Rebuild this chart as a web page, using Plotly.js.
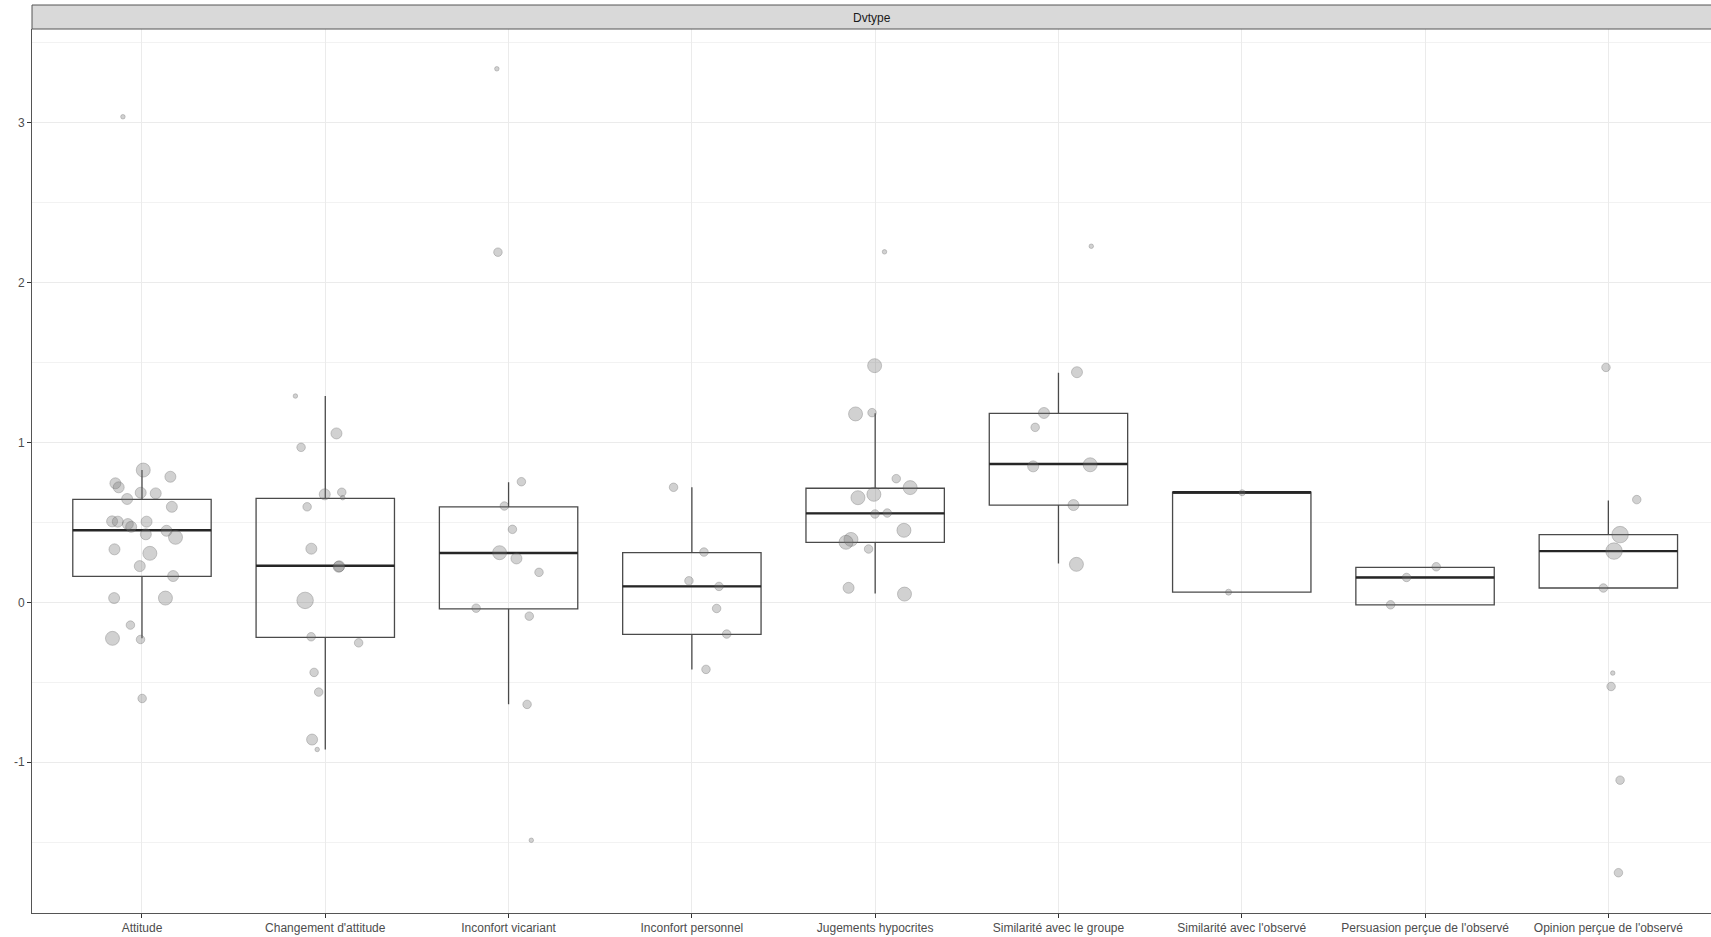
<!DOCTYPE html>
<html>
<head>
<meta charset="utf-8">
<script src="https://cdn.plot.ly/plotly-3.0.1.min.js"></script>
<style>html,body{margin:0;padding:0;background:#fff;}#chart{width:1711px;height:937px;}</style>
</head>
<body>
<div id="chart"></div>
<script>
// ---- Data ----
const categories = ["Attitude", "Changement d'attitude", "Inconfort vicariant", "Inconfort personnel",
  "Jugements hypocrites", "Similarité avec le groupe", "Similarité avec l'observé",
  "Persuasion perçue de l'observé", "Opinion perçue de l'observé"];
const stripLabel = "Dvtype";

// box statistics per category
const q1     = [0.163, -0.219, -0.040, -0.200, 0.376, 0.609, 0.064, -0.015, 0.090];
const median = [0.451,  0.229,  0.309,  0.100, 0.557, 0.866, 0.689,  0.156, 0.321];
const q3     = [0.645,  0.651,  0.598,  0.311, 0.714, 1.183, 0.689,  0.219, 0.424];
const lowerW = [-0.225, -0.920, -0.637, -0.419, 0.056, 0.244, 0.064, -0.015, 0.090];
const upperW = [0.828,  1.291,  0.751,  0.720, 1.183, 1.437, 0.689,  0.219, 0.638];

// individual points: category index (1-based), value, jitter (category units), weight
const pointCategory = [
  1,1,1,1,1,1,1,1,1,1,1,1,1,1,1,1,1,1,1,1,1,1,1,1,1,1,1,
  2,2,2,2,2,2,2,2,2,2,2,2,2,2,2,2,2,
  3,3,3,3,3,3,3,3,3,3,3,3,
  4,4,4,4,4,4,4,
  5,5,5,5,5,5,5,5,5,5,5,5,5,5,5,5,
  6,6,6,6,6,6,6,6,
  7,7,
  8,8,8,
  9,9,9,9,9,9,9,9,9];
const pointValue = [
  0.828,0.786,0.745,0.720,0.686,0.682,0.647,0.598,0.507,0.505,0.505,0.490,0.473,0.448,0.426,0.407,0.332,0.307,0.227,0.165,0.027,0.027,-0.142,-0.225,-0.232,-0.601,3.038,
  1.291,1.057,0.970,0.676,0.689,0.655,0.598,0.336,0.223,0.226,0.0125,-0.215,-0.253,-0.438,-0.561,-0.858,-0.920,
  3.338,2.191,0.755,0.603,0.457,0.311,0.275,0.188,-0.036,-0.086,-0.638,-1.488,
  0.720,0.315,0.135,0.100,-0.038,-0.198,-0.419,
  2.193,1.481,1.179,1.187,0.774,0.718,0.655,0.676,0.553,0.559,0.451,0.394,0.376,0.334,0.091,0.052,
  2.228,1.440,1.185,1.095,0.851,0.861,0.609,0.238,
  0.686,0.064,
  0.223,0.156,-0.015,
  1.470,0.643,0.424,0.321,0.090,-0.442,-0.526,-1.112,-1.691];
const pointJitter = [
  0.007,0.155,-0.145,-0.127,-0.007,0.075,-0.081,0.163,-0.163,-0.132,0.025,-0.077,-0.059,0.134,0.021,0.183,-0.150,0.043,-0.012,0.170,-0.152,0.128,-0.063,-0.161,-0.008,0.001,-0.104,
  -0.163,0.061,-0.132,-0.003,0.090,0.095,-0.099,-0.076,0.073,0.076,-0.110,-0.077,0.182,-0.061,-0.036,-0.072,-0.044,
  -0.064,-0.058,0.070,-0.023,0.021,-0.049,0.043,0.166,-0.177,0.113,0.101,0.124,
  -0.100,0.066,-0.016,0.148,0.135,0.190,0.077,
  0.051,-0.003,-0.107,-0.017,0.115,0.191,-0.094,-0.007,-0.001,0.066,0.157,-0.132,-0.159,-0.036,-0.145,0.160,
  0.179,0.101,-0.079,-0.127,-0.138,0.173,0.082,0.098,
  0.002,-0.072,
  0.061,-0.101,-0.188,
  -0.013,0.155,0.064,0.031,-0.027,0.024,0.015,0.064,0.055];
const pointWeight = [
  4,3,3,3,3,3,3,3,3,3,3,3,3,3,3,4,3,4,3,3,3,4,2,4,2,2,1,
  1,3,2,3,2,1,2,3,3,3,5,2,2,2,2,3,1,
  1,2,2,2,2,4,3,2,2,2,2,1,
  2,2,2,2,2,2,2,
  1,4,4,2,2,4,4,4,2,2,4,4,4,2,3,4,
  1,3,3,2,3,4,3,4,
  1.5,1.5,
  2,2,2,
  2,2,5,5,2,1,2,2,2];

// ---- Styling ----
const boxWidth = 0.755;
const sizeForWeight = w => ({1:4.5, 1.5:6, 2:8.5, 3:11, 4:14, 5:16.5})[w];
const catPos = categories.map((c, i) => i + 1);

const boxTrace = {
  type: 'box',
  x: catPos,
  q1: q1, median: median, q3: q3,
  lowerfence: lowerW, upperfence: upperW,
  width: boxWidth,
  boxpoints: false,
  fillcolor: 'rgba(255,255,255,0)',
  line: {color: '#4a4a4a', width: 1.3},
  whiskerwidth: 0,
  hoverinfo: 'skip',
  showlegend: false
};

// thicker median segments (ggplot style)
const medX = [], medY = [];
catPos.forEach((p, i) => {
  medX.push(p - boxWidth / 2, p + boxWidth / 2, null);
  medY.push(median[i], median[i], null);
});
const medianTrace = {
  type: 'scatter', mode: 'lines', x: medX, y: medY,
  line: {color: '#262626', width: 2.4},
  hoverinfo: 'skip', showlegend: false
};

const pointsTrace = {
  type: 'scatter', mode: 'markers',
  x: pointCategory.map((c, i) => c + pointJitter[i]),
  y: pointValue,
  marker: {
    size: pointWeight.map(sizeForWeight),
    color: 'rgba(120,120,120,0.48)',
    line: {color: 'rgba(85,85,85,0.55)', width: 0.8}
  },
  hoverinfo: 'y', showlegend: false
};

const layout = {
  width: 1711, height: 937,
  margin: {l: 32, r: 0, t: 29, b: 24, pad: 0},
  paper_bgcolor: '#ffffff', plot_bgcolor: '#ffffff',
  font: {family: 'Liberation Sans, Arial, sans-serif', size: 12, color: '#4d4d4d'},
  showlegend: false,
  xaxis: {
    range: [0.4, 9.56],
    tickmode: 'array', tickvals: catPos, ticktext: categories,
    ticks: 'outside', ticklen: 4, tickcolor: '#333333', tickwidth: 1,
    showgrid: true, gridcolor: '#ebebeb', gridwidth: 1,
    zeroline: false,
    showline: true, linecolor: '#555555', linewidth: 1,
    tickfont: {size: 12, color: '#4d4d4d'}
  },
  yaxis: {
    range: [-1.943, 3.587],
    tickmode: 'array', tickvals: [-1, 0, 1, 2, 3], ticktext: ['-1', '0', '1', '2', '3'],
    ticks: 'outside', ticklen: 4, tickcolor: '#333333', tickwidth: 1,
    showgrid: true, gridcolor: '#ebebeb', gridwidth: 1,
    minor: {tickmode: 'array', tickvals: [-1.5, -0.5, 0.5, 1.5, 2.5, 3.5], showgrid: true, gridcolor: '#f2f2f2', gridwidth: 1, ticks: ''},
    zeroline: false,
    showline: true, linecolor: '#555555', linewidth: 1,
    tickfont: {size: 12, color: '#4d4d4d'}
  },
  shapes: [{
    type: 'rect', xref: 'paper', yref: 'paper',
    x0: 0, x1: 1.01, ysizemode: 'pixel', yanchor: 1, y0: 0, y1: 24,
    fillcolor: '#d9d9d9', line: {color: '#555555', width: 1}, layer: 'above'
  }],
  annotations: [{
    text: stripLabel, xref: 'paper', yref: 'paper', x: 0.5, y: 1,
    xanchor: 'center', yanchor: 'middle', yshift: 11, showarrow: false,
    font: {size: 12, color: '#1a1a1a'}
  }]
};

Plotly.newPlot('chart', [boxTrace, medianTrace, pointsTrace], layout, {displayModeBar: false, staticPlot: true});
</script>
</body>
</html>
